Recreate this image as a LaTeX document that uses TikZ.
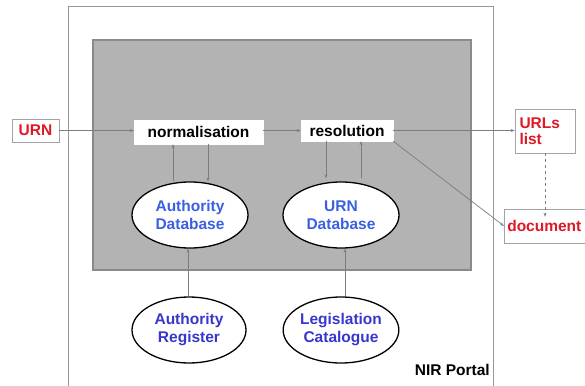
\documentclass[tikz,border=0pt]{standalone}
\usepackage{fontspec}
\setmainfont{Liberation Sans}
\usetikzlibrary{shapes.geometric,arrows.meta}
\definecolor{urnred}{RGB}{222,24,36}
\definecolor{dbblue}{RGB}{60,95,225}
\definecolor{regblue}{RGB}{55,55,205}
\definecolor{panelgray}{RGB}{179,179,179}
\definecolor{linegray}{RGB}{125,125,125}
\tikzset{
  every node/.style={font=\bfseries\fontsize{15.5}{18}\selectfont, inner sep=0pt},
  procbox/.style={rectangle, fill=white, draw=white, text=black},
  redbox/.style={rectangle, fill=white, draw=linegray!70, line width=0.6pt, text=urnred, align=left},
  dbell/.style={ellipse, draw=black, line width=1.3pt, fill=white, align=center, minimum width=116pt, minimum height=66pt},
  conn/.style={draw=linegray, line width=0.7pt, -{Stealth[length=4pt,width=3pt]}},
}
\begin{document}
\begin{tikzpicture}[x=1pt,y=-1pt]
\useasboundingbox (0,0) rectangle (585,385);
\fill[white] (0,0) rectangle (585,385);
% outer portal
\draw[draw=linegray!80, line width=1pt] (68,390) -- (68,7) -- (493,7) -- (493,390);
% gray panel
\draw[fill=panelgray, draw=linegray!90, line width=1.1pt] (93,40) rectangle (471,270);
% boxes
\node[redbox, minimum width=47pt, minimum height=23pt, align=center] (urn) at (35.5,130.5) {URN};
\node[procbox, minimum width=129pt, minimum height=24pt] (norm) at (198.5,132) {normalisation};
\node[procbox, minimum width=92pt, minimum height=21pt] (res) at (347,130.5) {resolution};
\node[redbox, minimum width=60pt, minimum height=44pt, text width=51pt, inner xsep=4.5pt] (urls) at (545,131) {URLs\\[-2pt]list};
\node[redbox, minimum width=86pt, minimum height=34pt, anchor=west] (doc) at (504,226) {\hspace*{2pt}document\hspace*{8pt}};
% ellipses
\node[dbell, text=dbblue] (adb) at (190,215) {Authority\\Database};
\node[dbell, text=dbblue] (udb) at (341,215) {URN\\Database};
\node[dbell, text=regblue, minimum width=114pt] (areg) at (189,330) {Authority\\Register};
\node[dbell, text=regblue, minimum width=114pt] (lcat) at (341,330) {Legislation\\Catalogue};
\node[anchor=south east, text=black] (nir) at (490,376) {NIR Portal};
% connectors
\draw[conn] (urn.east) -- (norm.west |- urn.east);
\draw[conn] (norm.east |- res.west) -- (res.west);
\draw[conn] (res.east) -- (urls.west |- res.east);
\draw[conn] (res.south east) -- (doc.west);
\draw[conn, dashed] (urls.south) -- ([yshift=-8pt]urls.south |- doc.north);
\draw[conn] (adb.north -| 173,0) -- (norm.south -| 173,0);
\draw[conn] (norm.south -| 208,0) -- (adb.north -| 208,0);
\draw[conn] (res.south -| 326,0) -- ([yshift=3pt]udb.north -| 326,0);
\draw[conn] ([yshift=3pt]udb.north -| 361,0) -- (res.south -| 361,0);
\draw[conn] (areg.north -| 188,0) -- (adb.south -| 188,0);
\draw[conn] (lcat.north -| 345,0) -- (udb.south -| 345,0);
\end{tikzpicture}
\end{document}
